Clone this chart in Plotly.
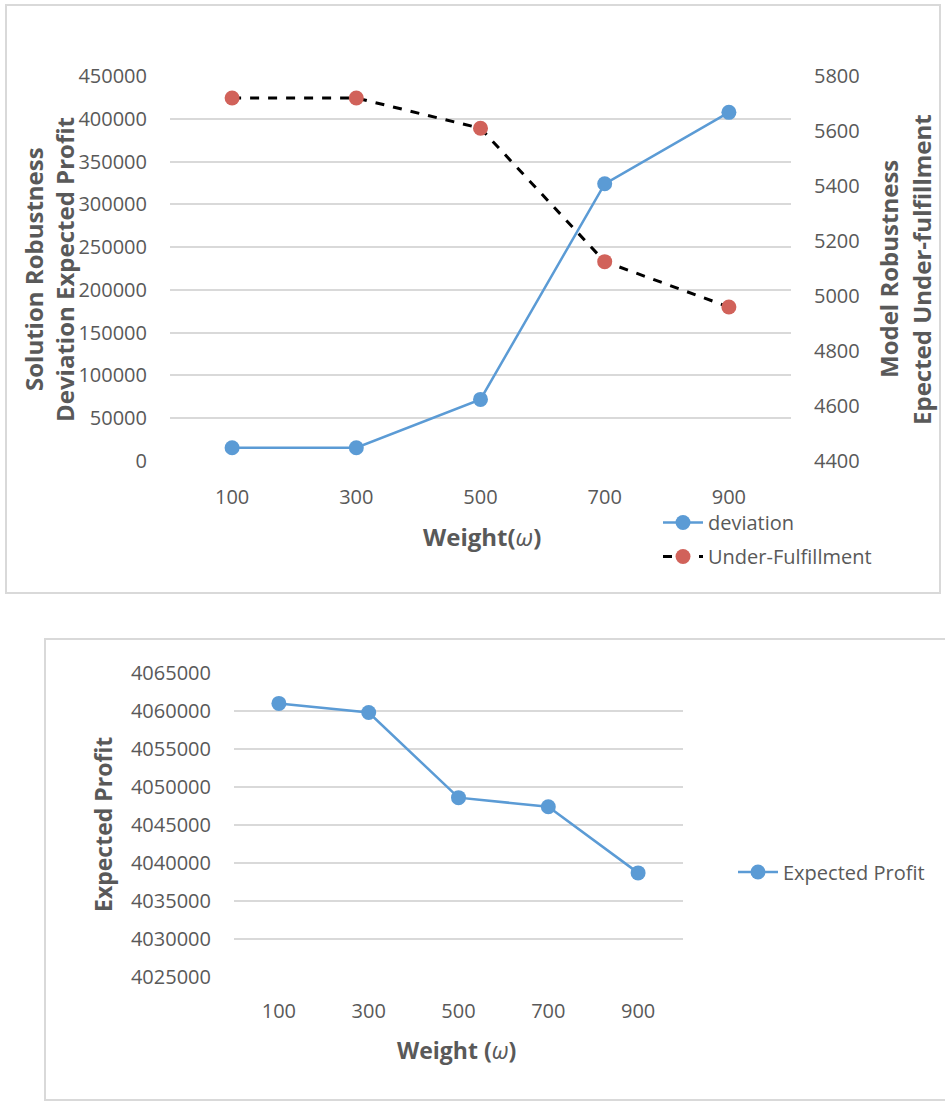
import plotly.graph_objects as go

W, H = 945, 1102

weights = ["100", "300", "500", "700", "900"]
deviation = [15500, 15500, 72000, 324000, 407500]
under_fulfillment = [5720, 5720, 5610, 5125, 4960]
expected_profit = [4061000, 4059800, 4048600, 4047400, 4038700]

left_ticks = list(range(0, 450001, 50000))
right_ticks = list(range(4400, 5801, 200))
profit_ticks = list(range(4025000, 4065001, 5000))

BLUE = "#5b9bd5"
RED = "#d1625a"
GRID = "#d9d9d9"
TXT = "#595959"
TITLE = "#595959"
FONT = "Open Sans"


def px(x):
    return x / W


def py(y):
    return 1 - y / H


tick_font = dict(family=FONT, size=20, color=TXT)

fig = go.Figure()

fig.add_trace(go.Scatter(
    x=weights, y=deviation, name="deviation", mode="lines+markers",
    line=dict(color=BLUE, width=2.5), marker=dict(color=BLUE, size=15),
    xaxis="x", yaxis="y", legend="legend", legendgroup="a"))
fig.add_trace(go.Scatter(
    x=weights, y=under_fulfillment, name="Under-Fulfillment", mode="lines+markers",
    line=dict(color="black", width=3, dash="dash"), marker=dict(color=RED, size=15),
    xaxis="x", yaxis="y2", legend="legend", legendgroup="b"))
fig.add_trace(go.Scatter(
    x=weights, y=expected_profit, name="Expected Profit", mode="lines+markers",
    line=dict(color=BLUE, width=2.5), marker=dict(color=BLUE, size=15),
    xaxis="x2", yaxis="y3", legend="legend2"))

fig.update_layout(
    width=W, height=H,
    margin=dict(l=0, r=0, t=0, b=0, autoexpand=False),
    paper_bgcolor="white", plot_bgcolor="white",
    font=dict(family=FONT, color=TXT),
    xaxis=dict(domain=[px(170), px(791)], anchor="y", type="category",
               range=[-0.5, 4.5], showgrid=False, showline=False, zeroline=False,
               ticks="", tickfont=tick_font, ticklabelstandoff=22, automargin=False),
    yaxis=dict(domain=[py(461), py(76)], anchor="x", range=[0, 450000],
               tickvals=left_ticks, tickformat="d", showgrid=True,
               gridcolor=GRID, gridwidth=1.5, zeroline=False, showline=False,
               ticks="", tickfont=tick_font, ticklabelstandoff=22, automargin=False),
    yaxis2=dict(overlaying="y", side="right", anchor="x", range=[4400, 5800],
                tickvals=right_ticks, tickformat="d", showgrid=False,
                zeroline=False, showline=False, ticks="", tickfont=tick_font,
                ticklabelstandoff=22, automargin=False),
    xaxis2=dict(domain=[px(234), px(683)], anchor="y3", type="category",
                range=[-0.5, 4.5], showgrid=False, showline=False, zeroline=False,
                ticks="", tickfont=tick_font, ticklabelstandoff=20, automargin=False),
    yaxis3=dict(domain=[py(977), py(673)], anchor="x2", range=[4025000, 4065000],
                tickvals=profit_ticks, tickformat="d", showgrid=True,
                gridcolor=GRID, gridwidth=1.5, zeroline=False, showline=False,
                ticks="", tickfont=tick_font, ticklabelstandoff=22, automargin=False),
    legend=dict(x=px(658), y=py(503), xanchor="left", yanchor="top",
                font=dict(family=FONT, size=20, color=TXT),
                bgcolor="rgba(0,0,0,0)", tracegroupgap=5, itemwidth=40),
    legend2=dict(x=px(733), y=py(872), xanchor="left", yanchor="middle",
                 font=dict(family=FONT, size=20, color=TXT),
                 bgcolor="rgba(0,0,0,0)", itemwidth=40),
    shapes=[
        dict(type="rect", xref="paper", yref="paper", x0=px(6), x1=px(940),
             y0=py(593), y1=py(5), line=dict(color=GRID, width=2), layer="below"),
        dict(type="rect", xref="paper", yref="paper", x0=px(45), x1=px(960),
             y0=py(1100), y1=py(639), line=dict(color=GRID, width=2), layer="below"),
    ],
)

top_title = dict(family=FONT, size=24, color=TITLE)
bot_title = dict(family=FONT, size=23, color=TITLE)
ann = [
    dict(text="<b>Solution Robustness</b>", x=px(33), y=py(269), textangle=-90, font=top_title),
    dict(text="<b>Deviation Expected Profit</b>", x=px(64), y=py(270), textangle=-90, font=top_title),
    dict(text="<b>Model Robustness</b>", x=px(888), y=py(269), textangle=-90, font=top_title),
    dict(text="<b>Epected Under-fulfillment</b>", x=px(921), y=py(270), textangle=-90, font=top_title),
    dict(text="<b>Weight(</b><i>ω</i><b>)</b>", x=px(482), y=py(536), textangle=0, font=top_title),
    dict(text="<b>Expected Profit</b>", x=px(103), y=py(825), textangle=-90, font=bot_title),
    dict(text="<b>Weight (</b><i>ω</i><b>)</b>", x=px(456), y=py(1050), textangle=0, font=bot_title),
]
for a in ann:
    fig.add_annotation(xref="paper", yref="paper", showarrow=False,
                       xanchor="center", yanchor="middle", **a)

fig.write_html("out.html", config={"displayModeBar": False},
               post_script="document.body.style.margin='0';document.body.style.overflow='hidden';")
